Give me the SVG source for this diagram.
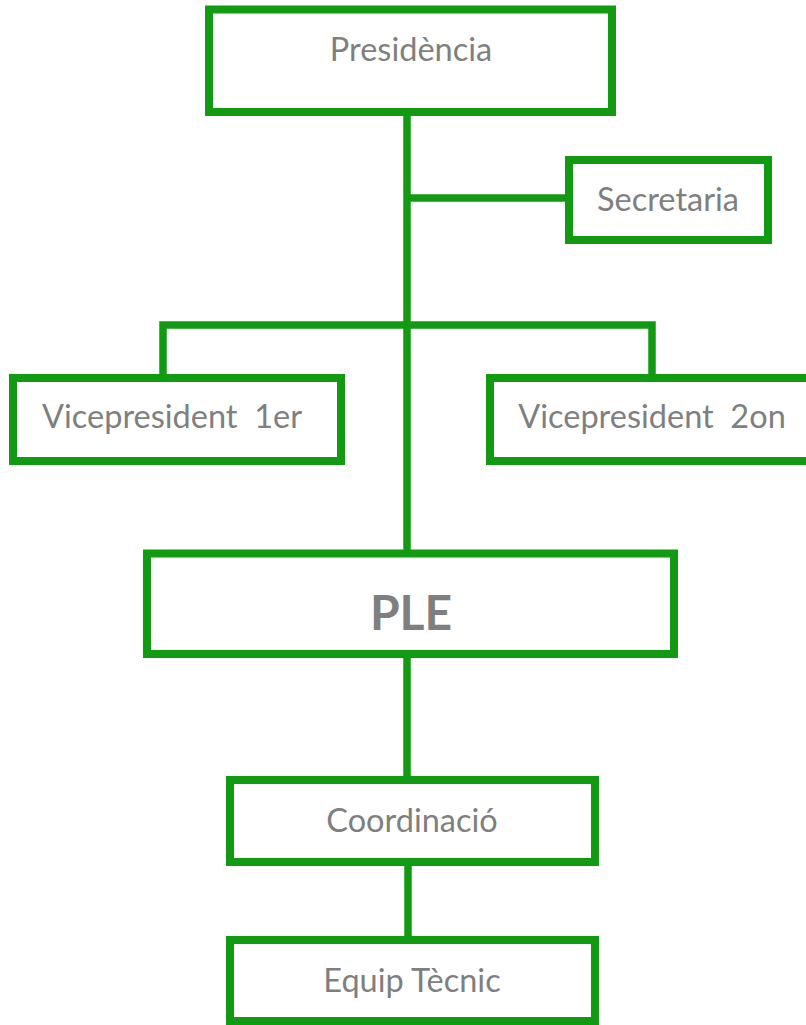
<svg xmlns="http://www.w3.org/2000/svg" width="806" height="1025" viewBox="0 0 806 1025">
<style>
.box{fill:#ffffff;stroke:#139a13;stroke-width:8}
.con{fill:none;stroke:#139a13;stroke-width:7.5;stroke-linejoin:miter}
.lbl{font-family:Lato,"Liberation Sans",sans-serif;font-size:32.5px;fill:#7f7f7f;text-anchor:middle}
.big{font-family:Lato,"Liberation Sans",sans-serif;font-size:48px;font-weight:bold;fill:#7f7f7f;text-anchor:middle}
</style>
<rect width="806" height="1025" fill="#ffffff"/>
<g id="connectors">
<line class="con" x1="407" y1="112" x2="407" y2="554"/>
<line class="con" x1="407" y1="198" x2="569" y2="198"/>
<polyline class="con" points="163,378 163,325 652,325 652,378"/>
<line class="con" x1="407" y1="654" x2="407" y2="780"/>
<line class="con" x1="408" y1="862" x2="408" y2="940"/>
</g>
<g id="presidencia">
<rect class="box" x="209" y="9.5" width="403" height="102.5"/>
<text class="lbl" x="411" y="61">Presidència</text>
</g>
<g id="secretaria">
<rect class="box" x="569" y="160" width="199" height="80"/>
<text class="lbl" x="668" y="211">Secretaria</text>
</g>
<g id="vp1">
<rect class="box" x="13" y="378" width="328" height="83"/>
<text class="lbl" x="172" y="428" xml:space="preserve">Vicepresident  1er</text>
</g>
<g id="vp2">
<rect class="box" x="490" y="378" width="322" height="83"/>
<text class="lbl" x="652" y="428" xml:space="preserve">Vicepresident  2on</text>
</g>
<g id="ple">
<rect class="box" x="147" y="553.5" width="527" height="100.5"/>
<text class="big" x="411" y="630">PLE</text>
</g>
<g id="coordinacio">
<rect class="box" x="230" y="780" width="365" height="82"/>
<text class="lbl" x="412" y="832">Coordinació</text>
</g>
<g id="equip">
<rect class="box" x="230" y="940" width="365" height="81"/>
<text class="lbl" x="412" y="992">Equip Tècnic</text>
</g>
</svg>
